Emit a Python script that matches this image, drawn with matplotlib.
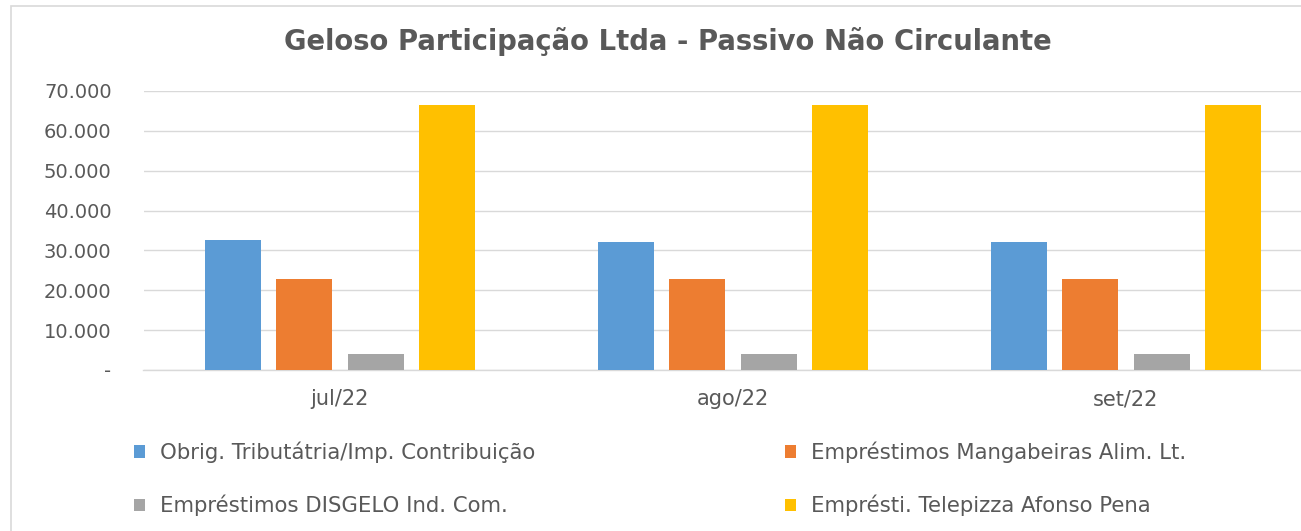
import matplotlib
matplotlib.use("Agg")
import matplotlib.pyplot as plt
from matplotlib.patches import Rectangle
from matplotlib.ticker import FuncFormatter
import numpy as np

plt.rcParams['font.family'] = ['DejaVu Sans']

categories = ["jul/22", "ago/22", "set/22"]
series_names = [
    "Obrig. Tributátria/Imp. Contribuição",
    "Empréstimos Mangabeiras Alim. Lt.",
    "Empréstimos DISGELO Ind. Com.",
    "Empr\u00e9sti. Telepizza Afonso Pena",
]
obrig = [32600, 32000, 32000]
mangabeiras = [22750, 22750, 22750]
disgelo = [3900, 3900, 3900]
telepizza = [66500, 66500, 66500]
yticks = [0, 10000, 20000, 30000, 40000, 50000, 60000, 70000]
colors = ["#5B9BD5", "#ED7D31", "#A5A5A5", "#FFC000"]

W, H = 1301, 531
fig = plt.figure(figsize=(W / 100, H / 100), dpi=100)
fig.patch.set_facecolor("white")

# outer chart frame
fig.patches.append(Rectangle((11 / W, -0.05), 1.2, (H - 6) / H + 0.05,
                             transform=fig.transFigure, fill=False,
                             edgecolor="#D9D9D9", linewidth=1.2))

ax = fig.add_axes([143.5 / W, 161 / H, 1179 / W, 279 / H])
x = np.arange(len(categories))
step = 0.1807
width = 0.1425
data = [obrig, mangabeiras, disgelo, telepizza]
handles = []
for i, (vals, c) in enumerate(zip(data, colors)):
    b = ax.bar(x + (i - 1.5) * step, vals, width, color=c, zorder=3,
               label=series_names[i])
    handles.append(b)

ax.set_xlim(-0.5, 2.5)
ax.set_ylim(0, 70000)
ax.set_yticks(yticks)
ax.yaxis.set_major_formatter(FuncFormatter(
    lambda v, p: "-" if v == 0 else f"{int(v):,}".replace(",", ".")))
ax.set_xticks(x)
ax.set_xticklabels(categories)
ax.grid(axis="y", color="#D9D9D9", linewidth=1, zorder=0)
ax.set_axisbelow(True)
for s in ["top", "right", "left"]:
    ax.spines[s].set_visible(False)
ax.spines["bottom"].set_color("#D9D9D9")
ax.spines["bottom"].set_linewidth(1)
ax.tick_params(axis="both", length=0, colors="#595959", labelsize=14)
ax.tick_params(axis="x", labelsize=15, pad=14)
ax.tick_params(axis="y", pad=23)
for lab in ax.get_yticklabels():
    lab.set_clip_on(False)

fig.text(668 / W, 1 - 42 / H, "Geloso Participação Ltda - Passivo Não Circulante",
         ha="center", va="center", fontsize=19.8, fontweight="bold", color="#595959")

common = dict(loc="center left", ncol=1, frameon=False, fontsize=15.3,
              labelcolor="#595959", handlelength=0.5, handleheight=0.5,
              handletextpad=0.72, labelspacing=1.5, borderaxespad=0,
              borderpad=0)
fig.legend([handles[0], handles[2]], [series_names[0], series_names[2]],
           bbox_to_anchor=(134 / W, 1 - 479 / H), **common)
fig.legend([handles[1], handles[3]], [series_names[1], series_names[3]],
           bbox_to_anchor=(785 / W, 1 - 479 / H), **common)

fig.savefig("out.png", dpi=100, facecolor="white")
